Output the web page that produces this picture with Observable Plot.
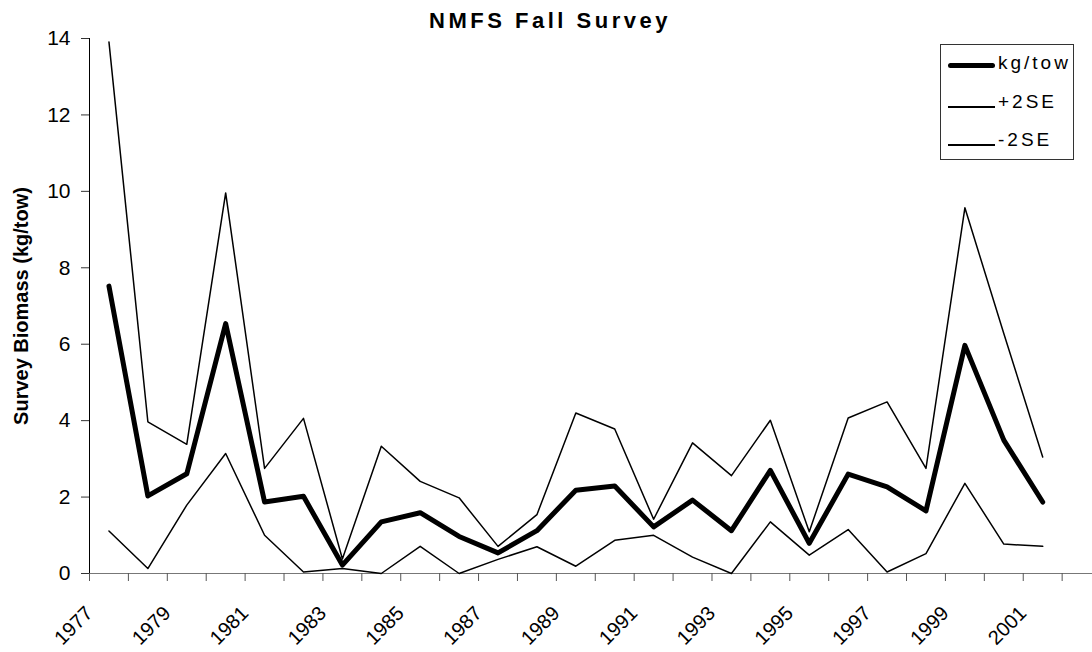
<!DOCTYPE html>
<html>
<head>
<meta charset="utf-8">
<script src="https://cdn.jsdelivr.net/npm/d3@7"></script>
<script src="https://cdn.jsdelivr.net/npm/@observablehq/plot@0.6"></script>
<style>
  body { margin: 0; background: #fff; overflow: hidden; font-family: "Liberation Sans", Arial, sans-serif; }
  #wrap { position: relative; width: 1092px; height: 652px; }
  #title { position: absolute; left: 0; top: 10px; width: 1100px; text-align: center; font-weight: bold; font-size: 22px; line-height: 22px; letter-spacing: 3.5px; color: #000; }
  #legend { position: absolute; left: 940px; top: 44px; width: 134px; height: 116px; border: 1px solid #333; box-sizing: border-box; background: #fff; }
  .sw { position: absolute; left: 7px; width: 47px; background: #000; }
  .lt { position: absolute; left: 57px; font-size: 19px; line-height: 19px; letter-spacing: 3px; color: #000; white-space: nowrap; }
</style>
</head>
<body>
<div id="wrap">
  <div id="chart"></div>
  <div id="title">NMFS Fall Survey</div>
  <div id="legend"></div>
</div>
<script>
const years = [1977,1978,1979,1980,1981,1982,1983,1984,1985,1986,1987,1988,1989,1990,1991,1992,1993,1994,1995,1996,1997,1998,1999,2000,2001];
const kgTow = [7.52,2.03,2.61,6.54,1.87,2.02,0.22,1.35,1.59,0.97,0.54,1.12,2.18,2.29,1.22,1.92,1.12,2.70,0.79,2.60,2.27,1.64,5.97,3.49,1.87];
const plus2SE = [13.91,3.97,3.38,9.96,2.75,4.06,0.38,3.33,2.41,1.98,0.71,1.54,4.20,3.78,1.42,3.42,2.56,4.01,1.09,4.07,4.49,2.75,9.57,6.28,3.05];
const minus2SE = [1.11,0.13,1.79,3.14,1.00,0.04,0.13,0.00,0.71,0.00,0.37,0.70,0.19,0.87,1.00,0.43,0.00,1.35,0.48,1.15,0.04,0.52,2.36,0.77,0.71];
const yearLabels = [1977,1979,1981,1983,1985,1987,1989,1991,1993,1995,1997,1999,2001];
const yTicks = [0,2,4,6,8,10,12,14];
const seriesNames = ["kg/tow","+2SE","-2SE"];
const yTitle = "Survey Biomass (kg/tow)";

const catEdges = years.map(y => y - 0.5).concat([years[years.length - 1] + 0.5]);
const rows = (vals) => years.map((y, i) => ({year: y, value: vals[i]}));

const chart = Plot.plot({
  width: 1092,
  height: 652,
  marginLeft: 89,
  marginRight: 0,
  marginTop: 38,
  marginBottom: 79,
  style: {fontFamily: "'Liberation Sans', Arial, sans-serif", fontSize: "21px", background: "#fff", overflow: "hidden", color: "#000"},
  x: {type: "linear", domain: [1976.5, 2002.28], axis: null},
  y: {domain: [0, 14], axis: null},
  marks: [
    Plot.ruleY([0], {stroke: "#777", strokeWidth: 1}),
    Plot.axisX(catEdges, {tickSize: 8, tickFormat: () => "", label: null, stroke: "#555"}),
    Plot.axisY(yTicks, {tickSize: 8, tickPadding: 11, label: null, stroke: "#333", fontSize: 21}),
    Plot.ruleX([catEdges[0]], {y1: 0, y2: 14, stroke: "#000", strokeWidth: 1}),
    Plot.text(yearLabels, {x: d => d, text: d => String(d), frameAnchor: "bottom", rotate: -45, textAnchor: "end", lineAnchor: "bottom", dx: -15, dy: 41, fontSize: 20}),
    Plot.text([yTitle], {frameAnchor: "left", rotate: -90, textAnchor: "middle", dx: -68, fontWeight: "bold", fontSize: 20}),
    Plot.line(rows(plus2SE), {x: "year", y: "value", stroke: "#000", strokeWidth: 1.5}),
    Plot.line(rows(minus2SE), {x: "year", y: "value", stroke: "#000", strokeWidth: 1.5}),
    Plot.line(rows(kgTow), {x: "year", y: "value", stroke: "#000", strokeWidth: 5, strokeLinejoin: "round", strokeLinecap: "round"})
  ]
});
document.getElementById("chart").appendChild(chart);

// legend
const legend = document.getElementById("legend");
const entries = [
  {name: seriesNames[0], lineTop: 18, thick: 5, textTop: 8},
  {name: seriesNames[1], lineTop: 61, thick: 1.5, textTop: 47},
  {name: seriesNames[2], lineTop: 99, thick: 1.5, textTop: 85}
];
entries.forEach(e => {
  const sw = document.createElement("div");
  sw.className = "sw";
  sw.style.top = e.lineTop + "px";
  sw.style.height = e.thick + "px";
  if (e.thick > 2) sw.style.borderRadius = "3px";
  legend.appendChild(sw);
  const t = document.createElement("div");
  t.className = "lt";
  t.style.top = e.textTop + "px";
  t.textContent = e.name;
  legend.appendChild(t);
});
</script>
</body>
</html>
